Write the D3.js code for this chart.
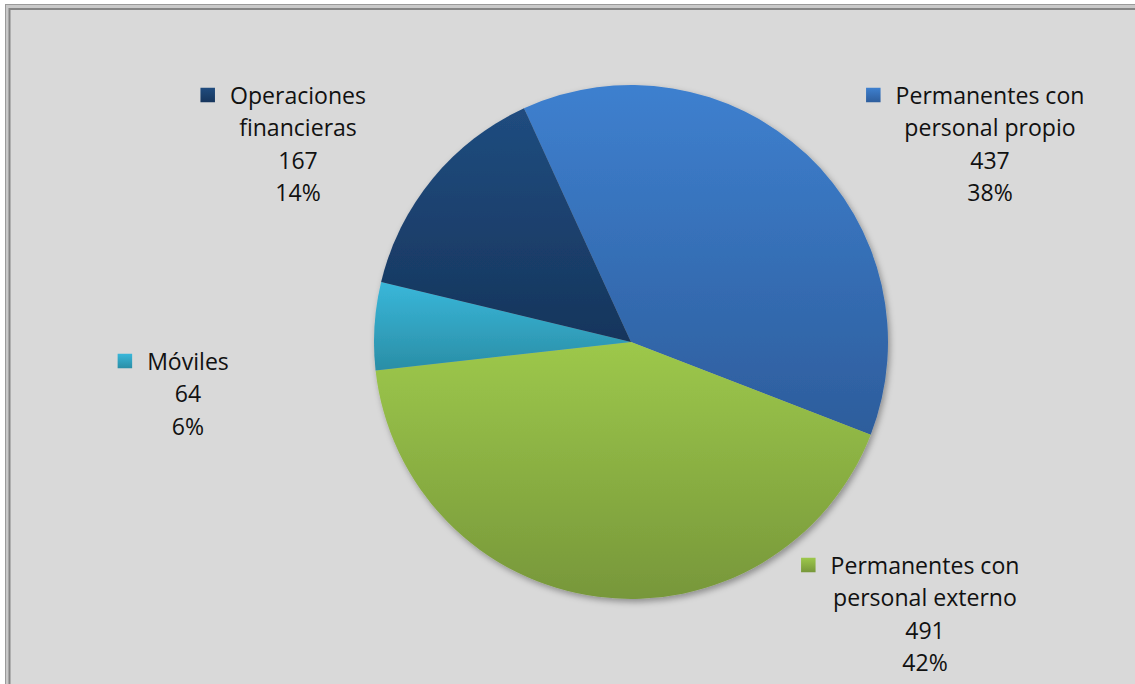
<!DOCTYPE html>
<html><head><meta charset="utf-8">
<script src="https://cdn.jsdelivr.net/npm/d3@7"></script>
<style>html,body{margin:0;padding:0;background:#fff;overflow:hidden}</style>
</head><body>
<svg id="chart" width="1135" height="684"></svg>
<script>
// ---- data ----
const categories = ["Permanentes con personal propio", "Permanentes con personal externo", "Móviles", "Operaciones financieras"];
const values = [437, 491, 64, 167];
const labelLines = [["Permanentes con", "personal propio"], ["Permanentes con", "personal externo"], ["Móviles"], ["Operaciones", "financieras"]];
const colorsTop = ["#3e80cf", "#9dc84b", "#39b7da", "#204c7f"];
const colorsBottom = ["#2d5d9c", "#77973a", "#2a8ea6", "#16355c"];

// ---- layout ----
const W = 1135, H = 684;
const cx = 631, cy = 342, R = 257;
const startDeg = -24.6;
const labelCenters = [[990, 96], [925, 566], [188, 362], [298, 96]];
const lineGap = 32.3;
const fontSize0 = 24;

const svg = d3.select("#chart");
const defs = svg.append("defs");

// background & frame
svg.append("rect").attr("x", 5).attr("y", 4).attr("width", W).attr("height", H).attr("fill", "#c9c9c9");
svg.append("rect").attr("x", 5.5).attr("y", 4.5).attr("width", W).attr("height", H).attr("fill", "none").attr("stroke", "#9a9a9a").attr("stroke-width", 1);
svg.append("rect").attr("x", 10).attr("y", 10).attr("width", W).attr("height", H).attr("fill", "#d9d9d9");
svg.append("rect").attr("x", 9.5).attr("y", 9).attr("width", W).attr("height", H).attr("fill", "none").attr("stroke", "#858585").attr("stroke-width", 2);

// shadow filter
const f = defs.append("filter").attr("id", "shadow").attr("x", "-10%").attr("y", "-10%").attr("width", "120%").attr("height", "120%");
f.append("feDropShadow").attr("dx", 2).attr("dy", 3).attr("stdDeviation", 3).attr("flood-color", "#000").attr("flood-opacity", 0.35);

// gradients
categories.forEach((c, i) => {
  const g = defs.append("linearGradient").attr("id", "grad" + i).attr("x1", 0).attr("y1", 0).attr("x2", 0).attr("y2", 1);
  g.append("stop").attr("offset", "0%").attr("stop-color", colorsTop[i]);
  g.append("stop").attr("offset", "100%").attr("stop-color", colorsBottom[i]);
});

const data = categories.map((c, i) => ({ name: c, value: values[i], i }));
const total = d3.sum(values);
const start = startDeg * Math.PI / 180;
const pie = d3.pie().value(d => d.value).sort(null).startAngle(start).endAngle(start + 2 * Math.PI);
const arc = d3.arc().innerRadius(0).outerRadius(R);

const gp = svg.append("g").attr("transform", `translate(${cx},${cy})`).attr("filter", "url(#shadow)");
gp.selectAll("path").data(pie(data)).join("path")
  .attr("d", arc)
  .attr("fill", d => `url(#grad${d.data.i})`);

// labels
const fontFamily = "'Open Sans', 'Noto Sans', sans-serif";
// calibrate font size so "Permanentes con" is ~189px wide, like the reference
const probe = svg.append("text").attr("font-family", fontFamily).attr("font-size", fontSize0).text("Permanentes con");
const wProbe = probe.node().getComputedTextLength();
probe.remove();
const fs = fontSize0 * 189 / wProbe;

const lg = svg.append("g").attr("font-family", fontFamily).attr("font-size", fs).attr("fill", "#111");
data.forEach((d, i) => {
  const [lx, ly] = labelCenters[i];
  const lines = labelLines[i].concat([String(d.value), Math.round(d.value / total * 100) + "%"]);
  const t = lg.append("text").attr("text-anchor", "middle");
  lines.forEach((ln, k) => {
    t.append("tspan").attr("x", lx).attr("y", ly + k * lineGap).attr("dy", "0.35em").text(ln);
  });
  // marker left of first line
  const first = t.select("tspan").node();
  const w = first.getComputedTextLength();
  const ms = 14.5;
  svg.append("rect")
    .attr("x", lx - w / 2 - 15 - ms).attr("y", ly - ms / 2 - 1)
    .attr("width", ms).attr("height", ms)
    .attr("fill", `url(#grad${i})`);
});
</script>
</body></html>
